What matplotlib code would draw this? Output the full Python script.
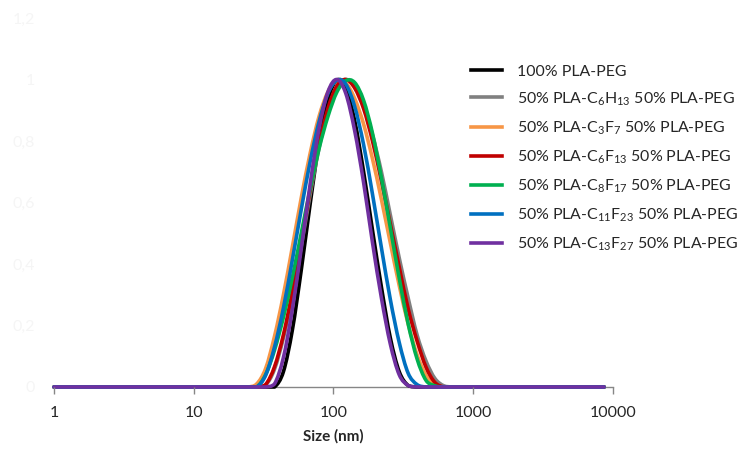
import numpy as np
import matplotlib.pyplot as plt
from matplotlib.path import Path
from matplotlib.patches import PathPatch
from matplotlib.lines import Line2D
from matplotlib.ticker import FixedLocator, FixedFormatter

plt.rcParams['font.family'] = ['Lato', 'DejaVu Sans']
plt.rcParams['mathtext.fontset'] = 'custom'
plt.rcParams['mathtext.rm'] = 'Lato'

# size bins (nm) of the distribution
size_low = [1.0, 1.117, 1.294, 1.499, 1.736, 2.01, 2.328, 2.696, 3.122, 3.615,
            4.187, 4.849, 5.615, 6.503, 7.531, 8.721, 10.1, 11.7, 13.54, 15.69,
            18.17, 21.04]
size_peak = [24.36, 28.21, 32.67, 37.84, 43.82, 50.75, 58.77, 68.06, 78.82, 91.28,
             105.7, 122.4, 141.8, 164.2, 190.1, 220.2, 255.0, 295.3, 342.0, 396.1,
             458.7, 531.2, 615.1, 712.4, 825.0]
size_high = [955.4, 1106, 1281, 1484, 1718, 1990, 2305, 2669, 3091, 3580, 4145,
             4801, 5560, 6439, 7456, 8635]

# normalised intensity over size_peak
pla_peg = [0, 0, 0, 0, 0.05, 0.185, 0.38, 0.595, 0.794, 0.935, 0.998, 0.971, 0.866,
           0.70, 0.51, 0.325, 0.16, 0.05, 0.005, 0, 0, 0, 0, 0, 0]
c6h13 = [0, 0, 0.006, 0.058, 0.16, 0.296, 0.457, 0.625, 0.777, 0.897, 0.975, 1.0,
         0.978, 0.918, 0.82, 0.70, 0.56, 0.42, 0.29, 0.17, 0.085, 0.028, 0.004, 0, 0]
c3f7 = [0, 0.01, 0.06, 0.165, 0.30, 0.455, 0.615, 0.76, 0.88, 0.96, 0.998, 0.989,
        0.938, 0.855, 0.742, 0.61, 0.469, 0.33, 0.205, 0.105, 0.038, 0.006, 0, 0, 0]
c6f13 = [0, 0, 0.008, 0.066, 0.17, 0.31, 0.474, 0.64, 0.788, 0.906, 0.979, 1.0,
         0.972, 0.905, 0.80, 0.67, 0.53, 0.39, 0.255, 0.15, 0.065, 0.015, 0, 0, 0]
c8f17 = [0, 0, 0.04, 0.12, 0.227, 0.356, 0.50, 0.644, 0.775, 0.88, 0.959, 0.996,
         0.99, 0.932, 0.825, 0.68, 0.518, 0.354, 0.206, 0.092, 0.022, 0.004, 0, 0, 0]
c11f23 = [0, 0, 0.038, 0.13, 0.257, 0.413, 0.577, 0.733, 0.863, 0.955, 0.998, 0.985,
          0.912, 0.788, 0.627, 0.453, 0.285, 0.145, 0.045, 0.008, 0, 0, 0, 0, 0]
c13f27 = [0, 0, 0, 0.01, 0.096, 0.252, 0.45, 0.66, 0.84, 0.96, 1.0, 0.955, 0.833,
          0.665, 0.47, 0.29, 0.14, 0.04, 0.005, 0, 0, 0, 0, 0, 0]

labels = ['100% PLA-PEG',
          r'50% PLA-C$_6$H$_{13}$ 50% PLA-PEG',
          r'50% PLA-C$_3$F$_7$ 50% PLA-PEG',
          r'50% PLA-C$_6$F$_{13}$ 50% PLA-PEG',
          r'50% PLA-C$_8$F$_{17}$ 50% PLA-PEG',
          r'50% PLA-C$_{11}$F$_{23}$ 50% PLA-PEG',
          r'50% PLA-C$_{13}$F$_{27}$ 50% PLA-PEG']
colors = ['#000000', '#808080', '#F79646', '#C00000', '#00B050', '#0070C0', '#7030A0']

x_ticks = [1, 10, 100, 1000, 10000]
x_tick_labels = ['1', '10', '100', '1000', '10000']
y_ticks = [0, 0.2, 0.4, 0.6, 0.8, 1.0, 1.2]
y_tick_labels = ['0', '0,2', '0,4', '0,6', '0,8', '1', '1,2']

sizes = size_low + size_peak + size_high
series = [pla_peg, c6h13, c3f7, c6f13, c8f17, c11f23, c13f27]


def smooth_path(xs, ys):
    # Excel style smoothed line: cubic bezier segments between the data points
    lx = np.log10(xs)
    y = np.asarray(ys, dtype=float)
    n = len(lx)
    verts = [(xs[0], y[0])]
    codes = [Path.MOVETO]
    for i in range(n - 1):
        a = max(i - 1, 0)
        b = min(i + 2, n - 1)
        c1x = lx[i] + (lx[i + 1] - lx[a]) / 6
        c1y = y[i] + (y[i + 1] - y[a]) / 6
        c2x = lx[i + 1] - (lx[b] - lx[i]) / 6
        c2y = y[i + 1] - (y[b] - y[i]) / 6
        verts += [(10 ** c1x, max(c1y, 0)), (10 ** c2x, max(c2y, 0)), (xs[i + 1], y[i + 1])]
        codes += [Path.CURVE4] * 3
    return Path(verts, codes)


fig = plt.figure(figsize=(7.44, 4.53), dpi=100)
ax = fig.add_axes([0.0726, 0.1457, 0.7513, 0.8146])
ax.set_xscale('log')
ax.set_xlim(1, 10000)
ax.set_ylim(0, 1.2)

handles = []
for vals, col, lab in zip(series, colors, labels):
    y = [0] * len(size_low) + vals + [0] * len(size_high)
    patch = PathPatch(smooth_path(sizes, y), fill=False, edgecolor=col, lw=2.6,
                      capstyle='round', joinstyle='round', clip_on=False)
    ax.add_patch(patch)
    handles.append(Line2D([], [], color=col, lw=2.6, label=lab))

ax.xaxis.set_major_locator(FixedLocator(x_ticks))
ax.xaxis.set_major_formatter(FixedFormatter(x_tick_labels))
ax.xaxis.set_minor_locator(FixedLocator([]))
ax.set_yticks(y_ticks)
ax.set_yticklabels(y_tick_labels)

for s in ['top', 'right', 'left']:
    ax.spines[s].set_visible(False)
ax.spines['bottom'].set_color('#868686')
ax.spines['bottom'].set_linewidth(1.0)
ax.spines['bottom'].set_zorder(0.5)
ax.tick_params(axis='x', direction='out', length=5, width=1, color='#868686',
               labelsize=11.5, labelcolor='#262626', pad=9)
ax.tick_params(axis='y', length=0, labelsize=11.5, labelcolor='#f5f5f5', pad=14)
ax.set_xlabel('Size (nm)', fontsize=11, fontweight='bold', color='#262626', labelpad=6)

fig.legend(handles=handles, loc='upper left', bbox_to_anchor=(0.622, 0.875),
           frameon=False, fontsize=11.4, handlelength=2.0, handletextpad=0.95,
           labelspacing=0.72, borderpad=0, labelcolor='#262626')

fig.savefig('out.png', dpi=100)
